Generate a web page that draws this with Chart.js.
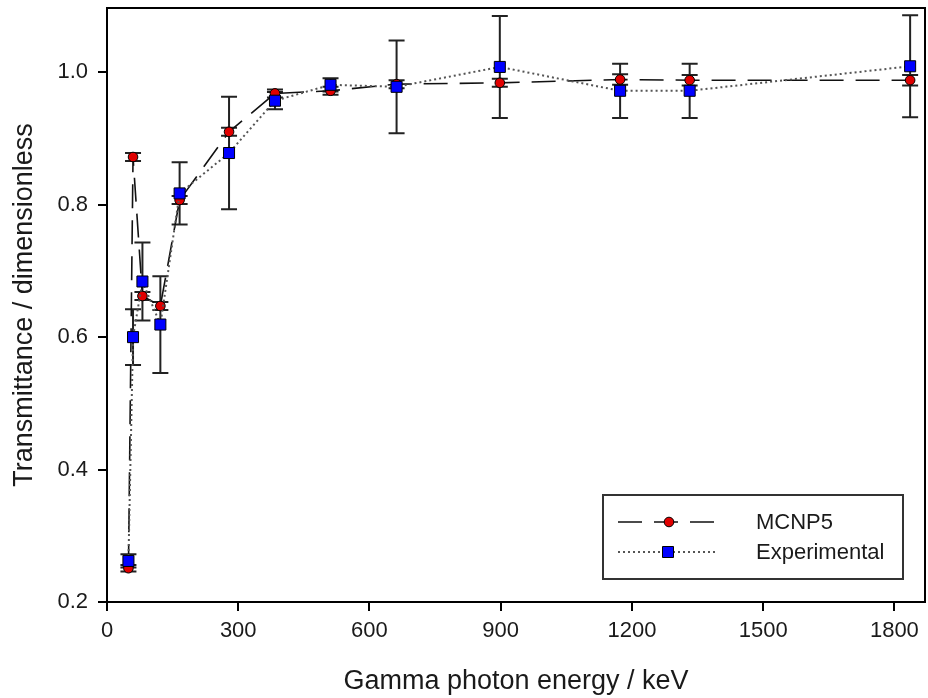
<!DOCTYPE html>
<html>
<head>
<meta charset="utf-8">
<title>Transmittance vs gamma photon energy</title>
<script src="https://cdn.jsdelivr.net/npm/chart.js@4/dist/chart.umd.min.js"></script>
<style>
  html, body { margin: 0; padding: 0; background: #fff; }
  #wrap { width: 928px; height: 698px; }
</style>
</head>
<body>
<div id="wrap"><canvas id="chart" width="928" height="698"></canvas></div>
<script>
// photon energies (keV)
const energies = [49, 59.5, 81, 122, 166, 279, 384, 511, 662, 898, 1173, 1332, 1836];

// simulated transmittance and its uncertainty
const mcnp    = [0.251, 0.872, 0.662, 0.647, 0.807, 0.910, 0.968, 0.972, 0.982, 0.984, 0.989, 0.988, 0.988];
const mcnpErr = [0.005, 0.006, 0.006, 0.006, 0.006, 0.006, 0.006, 0.006, 0.006, 0.006, 0.008, 0.008, 0.008];

// measured transmittance and its uncertainty
const expt    = [0.262, 0.600, 0.684, 0.619, 0.817, 0.878, 0.957, 0.981, 0.978, 1.008, 0.972, 0.972, 1.009];
const exptErr = [0.010, 0.042, 0.059, 0.073, 0.047, 0.085, 0.013, 0.010, 0.070, 0.077, 0.041, 0.041, 0.077];

const xTicks = [0, 300, 600, 900, 1200, 1500, 1800];
const yTicks = [0.2, 0.4, 0.6, 0.8, 1.0];

const FONT = '"Liberation Sans", Arial, sans-serif';
const TEXT = '#1a1a1a';

const points = (ys) => energies.map((e, i) => ({ x: e, y: ys[i] }));

// vertical error bars with caps, drawn under the markers
const errorBars = {
  id: 'errorBars',
  beforeDatasetsDraw(chart) {
    const { ctx, scales: { x, y } } = chart;
    const sets = [[mcnp, mcnpErr], [expt, exptErr]];
    ctx.save();
    ctx.strokeStyle = '#222';
    ctx.lineWidth = 2;
    sets.forEach(([vals, errs]) => {
      vals.forEach((v, i) => {
        const px = x.getPixelForValue(energies[i]);
        const top = y.getPixelForValue(v + errs[i]);
        const bot = y.getPixelForValue(v - errs[i]);
        ctx.beginPath();
        ctx.moveTo(px, top); ctx.lineTo(px, bot);
        ctx.moveTo(px - 8, top); ctx.lineTo(px + 8, top);
        ctx.moveTo(px - 8, bot); ctx.lineTo(px + 8, bot);
        ctx.stroke();
      });
    });
    ctx.restore();
  }
};

// plot frame plus boxed legend in the lower right
const frameAndLegend = {
  id: 'frameAndLegend',
  afterDraw(chart) {
    const { ctx, chartArea: a } = chart;
    ctx.save();
    ctx.strokeStyle = '#000';
    ctx.lineWidth = 2;
    ctx.strokeRect(a.left, a.top, a.right - a.left, a.bottom - a.top);

    ctx.strokeStyle = '#333';
    ctx.strokeRect(603, 495, 300, 84);

    const rows = chart.data.datasets.map((ds, i) => ({ ds, y: 522 + i * 30 }));
    rows.forEach(({ ds, y }) => {
      ctx.save();
      ctx.strokeStyle = ds.borderColor;
      ctx.lineWidth = ds.borderWidth;
      ctx.setLineDash(ds.borderDash);
      ctx.beginPath();
      ctx.moveTo(618, y); ctx.lineTo(717, y);
      ctx.stroke();
      ctx.restore();

      ctx.fillStyle = ds.pointBackgroundColor;
      ctx.strokeStyle = '#000';
      ctx.lineWidth = 1;
      ctx.beginPath();
      if (ds.pointStyle === 'rect') {
        ctx.rect(668 - 5.5, y - 5.5, 11, 11);
      } else {
        ctx.arc(669, y, ds.pointRadius, 0, Math.PI * 2);
      }
      ctx.fill();
      ctx.stroke();

      ctx.fillStyle = TEXT;
      ctx.font = '22px ' + FONT;
      ctx.textBaseline = 'middle';
      ctx.textAlign = 'left';
      ctx.fillText(ds.label, 756, y + 1);
    });
    ctx.restore();
  }
};

new Chart(document.getElementById('chart'), {
  type: 'line',
  data: {
    datasets: [
      {
        label: 'MCNP5',
        data: points(mcnp),
        borderColor: '#111',
        borderWidth: 1.6,
        borderDash: [24, 12],
        pointStyle: 'circle',
        pointRadius: 4.8,
        pointBackgroundColor: '#e00000',
        pointBorderColor: '#000',
        pointBorderWidth: 1,
        tension: 0,
        order: 2
      },
      {
        label: 'Experimental',
        data: points(expt),
        borderColor: '#555',
        borderWidth: 2,
        borderDash: [2, 3],
        pointStyle: 'rect',
        pointRadius: 7.8,
        pointBackgroundColor: '#0000ff',
        pointBorderColor: '#000',
        pointBorderWidth: 1,
        tension: 0,
        order: 1
      }
    ]
  },
  options: {
    responsive: false,
    animation: false,
    devicePixelRatio: 1,
    layout: { autoPadding: false, padding: { top: 8, right: 3, left: 0, bottom: 0 } },
    plugins: {
      legend: { display: false },
      tooltip: { enabled: false }
    },
    scales: {
      x: {
        type: 'linear',
        min: 0,
        max: 1870,
        afterBuildTicks: (s) => { s.ticks = xTicks.map(v => ({ value: v })); },
        afterFit: (s) => { s.height = 96; s.paddingLeft = 0; s.paddingRight = 0; },
        grid: { drawOnChartArea: false, drawTicks: true, tickLength: 9, color: '#000', lineWidth: 2 },
        border: { display: true, color: '#000', width: 2 },
        ticks: {
          padding: 7,
          color: TEXT,
          font: { family: FONT, size: 22 },
          maxRotation: 0,
          callback: (v) => String(v)
        },
        title: {
          display: true,
          text: 'Gamma photon energy / keV',
          color: TEXT,
          font: { family: FONT, size: 27 },
          padding: { top: 0, bottom: 0 }
        }
      },
      y: {
        type: 'linear',
        min: 0.2,
        max: 1.097,
        afterBuildTicks: (s) => { s.ticks = yTicks.map(v => ({ value: v })); },
        afterFit: (s) => { s.width = 107; s.paddingTop = 0; s.paddingBottom = 0; },
        grid: { drawOnChartArea: false, drawTicks: true, tickLength: 9, color: '#000', lineWidth: 2 },
        border: { display: true, color: '#000', width: 2 },
        ticks: {
          padding: 10,
          color: TEXT,
          font: { family: FONT, size: 22 },
          callback: (v) => v.toFixed(1)
        },
        title: {
          display: true,
          text: 'Transmittance / dimensionless',
          color: TEXT,
          font: { family: FONT, size: 27 },
          padding: { top: 8, bottom: 0 }
        }
      }
    }
  },
  plugins: [errorBars, frameAndLegend]
});
</script>
</body>
</html>
